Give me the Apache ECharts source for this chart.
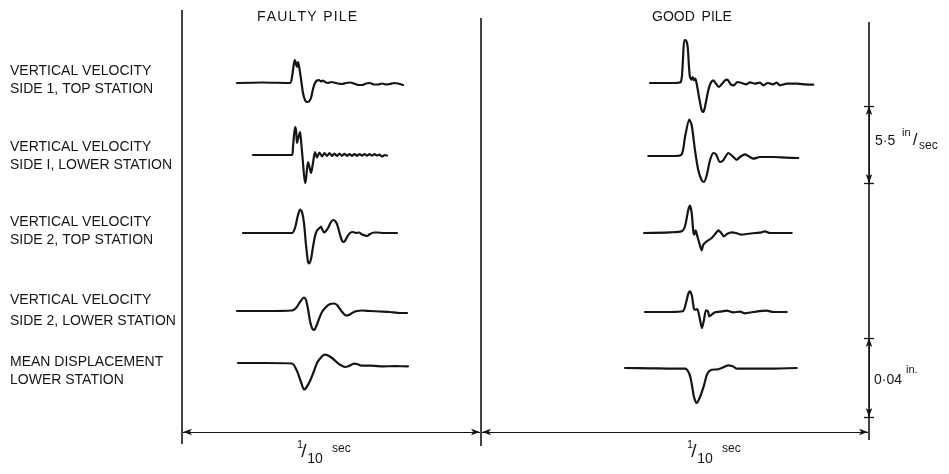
<!DOCTYPE html>
<html><head><meta charset="utf-8">
<script src="https://cdn.jsdelivr.net/npm/echarts@6/dist/echarts.min.js"></script>
<style>html,body{margin:0;padding:0;background:#fff}#c{width:949px;height:474px}</style>
</head><body><div id="c"></div>
<script>
// ---- text ----
const panelTitles = ['F\u200aA\u200aU\u200aL\u200aT\u200aY\u2009 P\u200aI\u200aL\u200aE', 'GOOD\u2009 PILE'];
const rowLabels = [
  ['VERTICAL VELOCITY', 'SIDE 1, TOP STATION'],
  ['VERTICAL VELOCITY', 'SIDE I, LOWER STATION'],
  ['VERTICAL VELOCITY', 'SIDE 2, TOP STATION'],
  ['VERTICAL VELOCITY', 'SIDE 2, LOWER STATION'],
  ['MEAN DISPLACEMENT', 'LOWER STATION']
];
const timeScaleLabel = ['1', '10', 'sec'];
const velScaleLabel = ['5\u00b75', 'in', 'sec'];
const dispScaleLabel = ['0\u00b704', 'in.'];

// ---- trace baselines (record rows) ----
const faultyBase = [83, 155, 233, 312, 363];
const goodBase = [83, 156, 233, 312, 368];

// ---- traces: [time position, deflection (up +)] ----
const f1 = [[237,0],[262,0.5],[290,0],[292,6],[294,20],[295,23],[296,19],[297,16],[298,21],[299,17],[301,4],[303,-10],[305,-17],[307,-19],[309,-18.5],[311,-15],[313,-6],[315,0],[317,2.5],[319,3],[321,1.5],[323,2.5],[325,1],[328,0],[331,1],[334,0.5],[338,-0.5],[342,-1],[346,0],[350,0.5],[354,-0.5],[358,-2],[362,-2],[366,-0.5],[370,0],[374,-1.5],[378,-1.5],[382,-0.5],[386,-1.5],[390,-1],[394,0],[398,-0.5],[403,-2]];
const f2 = [[253,0],[275,0],[292,0],[293,8],[295,28],[296,25],[297,12],[298,16],[300,23],[301,15],[303,-8],[305,-28],[306,-24],[308,-7],[309,-10],[311,-18],[313,-8],[315,3],[317,-2.5],[319.5,2.5],[322,-1.5],[324.5,2],[327,-1],[329.5,2],[332,-1],[334.5,1.5],[337,-1],[339.5,1.5],[342,-0.8],[344.5,1.2],[347,-0.8],[349.5,1],[352,-0.8],[354.5,1],[357,-0.8],[359.5,1],[362,-0.6],[364.5,0.8],[367,-0.6],[369.5,0.8],[372,-0.5],[374.5,0.8],[377,-0.5],[379.5,0.5],[382,-1.5],[385,0],[387,-0.5]];
const f3 = [[243,0],[270,0],[292,0],[295,5],[298,18],[300,23.5],[302,21],[304,10],[306,-12],[308,-29],[309,-30.5],[311,-26],[313,-14],[315,-3],[317,2.5],[319,4.5],[321,6.5],[322,4],[324,0.5],[326,2],[328,5],[331,11],[333,13],[335,12],[337,9],[339,2],[341,-5],[343,-9],[345,-8],[347,-4],[350,0],[353,1],[356,0],[359,0.5],[362,-1.5],[365,-2.5],[367,-3],[370,-1],[374,0.5],[378,0.5],[383,0],[390,0],[397,0]];
const f4 = [[237,1],[265,1],[292,1.5],[296,4],[300,10],[304,14.5],[306,12],[308,3],[310,-9],[312,-16],[314,-18],[316,-15],[319,-7],[322,0],[326,5],[330,8],[334,8.5],[337,7],[340,3],[343,-1],[346,-3.5],[349,-3],[353,-0.5],[357,1],[362,1.5],[370,1],[380,0.5],[390,0],[400,-1],[407,-1]];
const f5 = [[238,0],[265,0],[292,-0.5],[297,-8],[301,-19],[304,-26.5],[306,-25],[310,-18],[314,-8],[317,0],[321,5.5],[325,8.3],[328,7.5],[332,5],[336,1.5],[340,-1.7],[345,-4],[349,-3],[354,-0.7],[357,-1],[360,-2.3],[370,-2.6],[383,-3.3],[395,-3.2],[408,-3.3]];
const g1 = [[650,0],[673,0],[680.7,1],[682.7,19],[684.3,43],[686,42.7],[687.7,36],[689,16],[690,6],[691.7,3.3],[692.7,6],[694,2.7],[695.3,4.3],[696.7,-0.7],[699.3,-15.7],[701.7,-27.3],[703.3,-29],[705.3,-22.3],[708.3,-7.3],[710.7,0],[713.3,2.7],[716,-0.7],[718.7,-4],[721.7,-1.3],[725,2.7],[727.3,3.3],[730.7,-1.3],[734,-2.3],[737.3,1],[741.7,0],[746,-1.3],[750,0.7],[755,-0.7],[760,0.3],[763.3,-2.3],[768,0],[773,-1.3],[776.7,0.3],[780,-2.3],[787,-0.7],[797,-0.7],[805,-1.3],[813.3,-1.7]];
const g2 = [[648.3,0],[673.3,0],[681.7,1.7],[685,19],[689.3,36.3],[691.7,30.7],[695,5.7],[698.3,-14.3],[701.7,-24.3],[704,-26],[706.7,-19.3],[710,-4.3],[713.3,3],[716,1.7],[720,-6],[723.3,-4.3],[728.3,3],[731.7,0.7],[736.7,-3.7],[740,-1],[745,1.7],[750,-1],[753.3,-2.7],[760,-1],[773.3,-1],[786.7,-1.7],[798.3,-2]];
const g3 = [[644,0],[670,0.7],[681.7,1.7],[685,6.7],[688.3,23.3],[690,27.3],[691.7,20],[693.3,1.7],[694.3,-1.7],[695.7,2.7],[697.3,-3.3],[699.3,-10],[701.7,-17.3],[703.3,-11.7],[706.7,-8.3],[711.7,-5],[716,0],[718.3,2.7],[720.7,0.7],[724,-3.3],[727.3,-0.7],[731.7,0.7],[736,0],[741.7,-1.7],[746.7,-1],[755,0],[761.7,0.7],[765,1.7],[770,0],[780,0],[791.7,0]];
const g4 = [[645,0],[670,0],[682.7,0.7],[686,9],[688.3,18.3],[690,20.7],[692,15.7],[694,3],[695.7,2.3],[697.3,3],[699.3,-4.3],[702,-16],[704,-7.7],[706,1.7],[708,0.7],[709.3,-4.3],[711.7,-2.7],[715,-0.3],[720,0.3],[726.7,1.3],[733.3,-0.3],[740,0.3],[745,-1.3],[753.3,0],[766.7,1.3],[773.3,0],[786.7,0]];
const g5 = [[625,0],[650,-0.3],[673,-0.7],[685,-0.7],[689.3,-5.7],[691.7,-15.7],[694,-29],[696.7,-35],[700,-29],[704,-17.3],[707.3,-5.7],[711.7,-1.7],[718.3,-1.3],[724,1],[728.3,2.7],[732.7,1.7],[737.3,-0.7],[750,-0.7],[770,-0.7],[796.7,0]];

// ---- frame / scale marks ----
const panelEdges = [182, 481, 869];
const edgeTops = [10, 18, 22];
const edgeBottoms = [444, 446, 440];
const timeArrowLevel = 432;
const velScaleEnds = [106, 183];
const dispScaleEnds = [338, 417];

const ink = '#151515';
const font = "'Liberation Sans', Arial, 'DejaVu Sans', sans-serif";

const faultyTraces = [f1, f2, f3, f4, f5];
const goodTraces = [g1, g2, g3, g4, g5];

const series = [];
function addTrace(tr, base) {
  series.push({
    type: 'line', data: tr.map(p => [p[0], base - p[1]]),
    symbol: 'none', smooth: 0.25, silent: true, animation: false,
    lineStyle: { color: ink, width: 2.2, cap: 'round', join: 'round' }
  });
}
faultyTraces.forEach((t, i) => addTrace(t, faultyBase[i]));
goodTraces.forEach((t, i) => addTrace(t, goodBase[i]));

// frame lines
panelEdges.forEach((x, i) => {
  series.push({
    type: 'line', data: [[x, edgeTops[i]], [x, edgeBottoms[i]]],
    symbol: 'none', silent: true, animation: false,
    lineStyle: { color: ink, width: 1.6 }
  });
});

// dimension arrows
const arrowLines = [
  [{ coord: [panelEdges[0] + 1, timeArrowLevel] }, { coord: [panelEdges[1] - 1, timeArrowLevel] }],
  [{ coord: [panelEdges[1] + 1, timeArrowLevel] }, { coord: [panelEdges[2] - 1, timeArrowLevel] }],
  [{ coord: [panelEdges[2], velScaleEnds[0]] }, { coord: [panelEdges[2], velScaleEnds[1]] }],
  [{ coord: [panelEdges[2], dispScaleEnds[0]] }, { coord: [panelEdges[2], dispScaleEnds[1]] }]
];
series.push({
  type: 'line', data: [], silent: true, animation: false,
  markLine: {
    silent: true, animation: false, symbol: ['arrow', 'arrow'], symbolSize: [5, 9],
    label: { show: false }, lineStyle: { color: ink, width: 1, type: 'solid' },
    emphasis: { disabled: true },
    data: arrowLines
  }
});
// ticks on right scale
const tickYs = [velScaleEnds[0], velScaleEnds[1], dispScaleEnds[0], dispScaleEnds[1]];
series.push({
  type: 'line', data: [], silent: true, animation: false,
  markLine: {
    silent: true, animation: false, symbol: ['none', 'none'],
    label: { show: false }, lineStyle: { color: ink, width: 1.3, type: 'solid' },
    emphasis: { disabled: true },
    data: tickYs.map(y => [{ coord: [panelEdges[2] - 5, y] }, { coord: [panelEdges[2] + 5, y] }])
  }
});

// ---- text graphics ----
const graphic = [];
function txt(x, y, s, size, align, extra) {
  graphic.push(Object.assign({
    type: 'text', x: x, y: y, silent: true,
    style: { text: s, fill: ink, font: size + 'px ' + font, textAlign: align || 'left', textVerticalAlign: 'middle' }
  }, extra || {}));
}
txt(307, 17, panelTitles[0], 14, 'center');
txt(692, 17, panelTitles[1], 14, 'center');
const labelYs = [[71, 89], [147, 165], [222, 240], [300, 321], [362, 380]];
rowLabels.forEach((lab, i) => {
  txt(10, labelYs[i][0], lab[0], 14, 'left');
  txt(10, labelYs[i][1], lab[1], 14, 'left');
});
// time labels
[[299, 332], [689, 722]].forEach(p => {
  txt(p[0] + 1, 445, timeScaleLabel[0], 11, 'center');
  txt(p[0] + 5, 452, '/', 19, 'center');
  txt(p[0] + 16, 459, timeScaleLabel[1], 14, 'center');
  txt(p[1], 449, timeScaleLabel[2], 12, 'left');
});
// velocity scale label
txt(875, 141, velScaleLabel[0], 14, 'left');
txt(902, 133, velScaleLabel[1], 11, 'left');
txt(915, 140, '/', 17, 'center');
txt(919, 146, velScaleLabel[2], 12, 'left');
// displacement scale label
txt(874, 380, dispScaleLabel[0], 14, 'left');
txt(906, 370, dispScaleLabel[1], 11, 'left');

const chart = echarts.init(document.getElementById('c'), null, { renderer: 'canvas' });
chart.setOption({
  backgroundColor: '#ffffff',
  animation: false,
  grid: { left: 0, right: 0, top: 0, bottom: 0 },
  xAxis: { type: 'value', min: 0, max: 949, show: false },
  yAxis: { type: 'value', min: 0, max: 474, inverse: true, show: false },
  series: series,
  graphic: graphic
});
</script></body></html>
